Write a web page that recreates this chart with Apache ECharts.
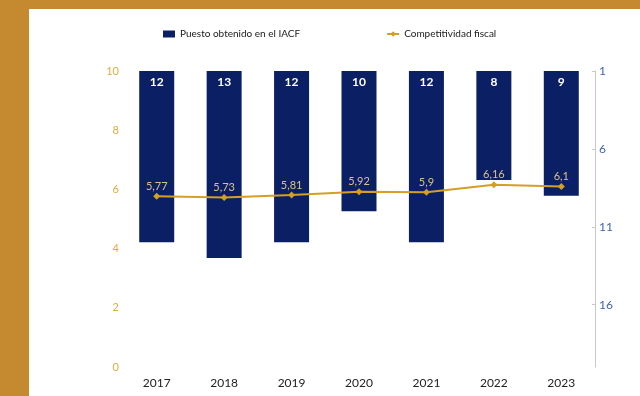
<!DOCTYPE html>
<html><head><meta charset="utf-8">
<script src="https://cdn.jsdelivr.net/npm/echarts@6/dist/echarts.min.js"></script>
<style>html,body{margin:0;padding:0;}#c{width:640px;height:396px;}</style>
</head><body><div id="c"></div>
<script>
const years = ['2017','2018','2019','2020','2021','2022','2023'];
const puesto = [12, 13, 12, 10, 12, 8, 9];
const competitividad = [5.77, 5.73, 5.81, 5.92, 5.9, 6.16, 6.1];

const GOLD = '#c5892f';
const NAVY = '#0b2064';
const chart = echarts.init(document.getElementById('c'));
chart.setOption({
  animation: false,
  backgroundColor: GOLD,
  textStyle: {fontFamily: 'Lato'},
  graphic: [{type: 'rect', shape: {x: 29, y: 9, width: 611, height: 387}, style: {fill: '#ffffff'}, z: -10, silent: true}],
  legend: {
    top: 24, left: 158, itemGap: 86, itemWidth: 12, itemHeight: 7,
    textStyle: {fontSize: 10, color: '#1a1a1a', fontFamily: 'Lato'},
    data: [
      {name: 'Puesto obtenido en el IACF', icon: 'rect'},
      {name: 'Competitividad fiscal'}
    ]
  },
  grid: {left: 123, right: 45, top: 71, bottom: 29},
  xAxis: {
    type: 'category', data: years,
    axisLine: {show: false}, axisTick: {show: false},
    axisLabel: {color: '#222', fontSize: 12, margin: 10}
  },
  yAxis: [
    {type: 'value', min: 0, max: 10, interval: 2,
     axisLine: {show: false}, axisTick: {show: false}, splitLine: {show: false},
     axisLabel: {color: '#e3ab3c', fontSize: 11, margin: 4}},
    {type: 'value', min: 1, max: 20, interval: 5, inverse: true, startValue: 1,
     position: 'right',
     axisLine: {show: true, lineStyle: {color: '#c8c8c8'}},
     axisTick: {show: true, inside: true, length: 3, lineStyle: {color: '#c8c8c8'}},
     splitLine: {show: false},
     axisLabel: {color: '#3f63b0', fontSize: 12, margin: 4, showMaxLabel: false}}
  ],
  series: [
    {name: 'Puesto obtenido en el IACF', type: 'bar', yAxisIndex: 1, data: puesto,
     barWidth: 35, clip: true, itemStyle: {color: NAVY},
     label: {show: true, position: 'insideTop', distance: 5, color: '#fff', fontWeight: 'bold', fontSize: 12}},
    {name: 'Competitividad fiscal', type: 'line', yAxisIndex: 0, data: competitividad,
     symbol: 'diamond', symbolSize: 7, z: 5,
     lineStyle: {color: '#d69e25', width: 2}, itemStyle: {color: '#d69e25'},
     label: {show: true, position: 'top', distance: 1, color: '#dcc08a', fontSize: 11,
       formatter: p => String(p.value).replace('.', ',')}}
  ]
});
</script></body></html>
